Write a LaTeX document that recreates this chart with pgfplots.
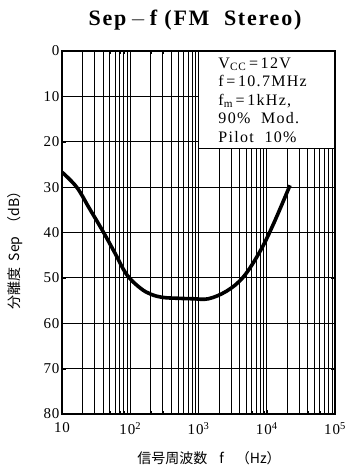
\documentclass[border=0pt]{standalone}
\usepackage{pgfplots}
\pgfplotsset{compat=1.18}
\usepackage{fontspec}
\setmainfont{Liberation Serif}
\newfontfamily\cjk{Noto Sans CJK JP}
\newfontfamily\spaced[LetterSpace=6]{Liberation Serif}
\newfontfamily\wide[LetterSpace=8]{Liberation Serif}
\begin{document}
\begin{tikzpicture}[x=1pt,y=1pt]
\useasboundingbox (-62,-56) rectangle (288,414);
\begin{axis}[
  at={(0,0)}, anchor=south west,
  scale only axis, width=273pt, height=363pt,
  xmode=log, xmin=10, xmax=100000,
  ymin=0, ymax=80, y dir=reverse,
  ytick={0,10,...,80},
  xtick={10,100,1000,10000,100000},
  xticklabels={10,10\textsuperscript{2},10\textsuperscript{3},10\textsuperscript{4},10\textsuperscript{5}},
  /pgf/number format/assume math mode=true,
  tick label style={font=\spaced\fontsize{15}{17}\selectfont},
  xticklabel style={yshift=-5pt},
  yticklabel style={xshift=1pt},
  grid=both,
  major grid style={black, line width=1pt},
  minor grid style={black, line width=0.75pt},
  axis line style={black, line width=1.5pt},
  tick style={black},
]
\addplot[black, line width=3.6pt, smooth, tension=0.6] coordinates {
(10,26.7) (16.4,30.0) (25,34.6) (40,39.8) (60,44.6) (89,49.3) (139,52.2)
(200,53.6) (300,54.3) (500,54.5) (840,54.6) (1400,54.6)
(2590,52.9) (4540,49.8) (7940,44.2) (12470,38.2) (21900,29.6)
};
\node[anchor=north east, fill=white, draw=black, line width=1pt,
  inner xsep=3pt, inner ysep=6pt, text width=130pt, align=left,
  font=\wide\fontsize{16}{18.5}\selectfont]
  at (rel axis cs:1,1) {%
  \hspace*{17pt}V\textsubscript{CC}\,=\,12V\\
  \hspace*{17pt}f\,=\,10.7MHz\\
  \hspace*{17pt}f\textsubscript{m}\,=\,1kHz,\\
  \hspace*{17pt}90\%\ \ Mod.\\
  \hspace*{17pt}Pilot\ \ 10\%};
\end{axis}
\node[font=\bfseries\wide\fontsize{22}{25}\selectfont] at (133,394) {Sep\,$-$\,f\ (FM\ \ Stereo)};
\node[font=\cjk\fontsize{14}{16}\selectfont] at (147,-44) {信号周波数\hspace{12pt}f\hspace{12pt}（Hz）};
\node[font=\cjk\fontsize{14}{16}\selectfont, rotate=90] at (-47,167) {分離度\hspace{6pt}Sep\hspace{6pt}（dB）};
\end{tikzpicture}
\end{document}
